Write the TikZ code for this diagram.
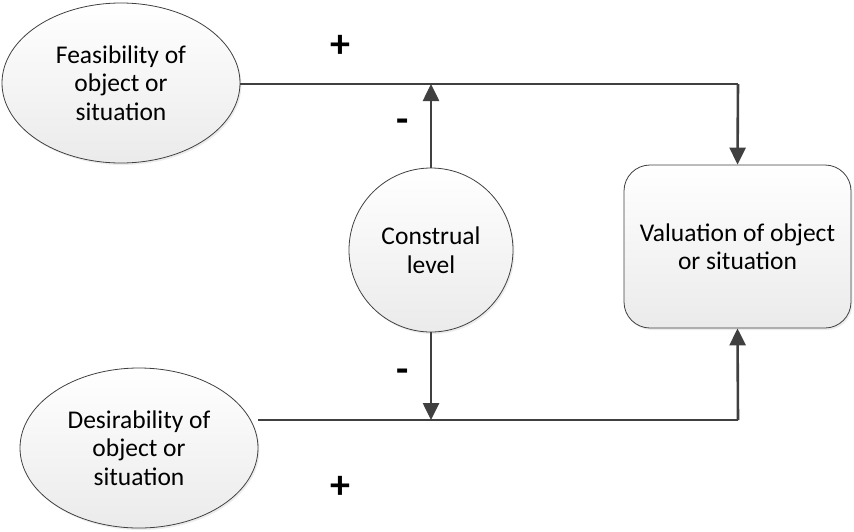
\documentclass[tikz,border=0pt]{standalone}
\usepackage{fontspec}
\setmainfont{Carlito}
\usetikzlibrary{shapes.geometric,arrows.meta,shadows}
\definecolor{linec}{HTML}{404040}
\tikzset{
  shaded/.style={top color=white, bottom color=black!8, draw=black!75, line width=0.8pt,
    drop shadow={shadow xshift=1.5pt, shadow yshift=-2pt, opacity=0.15}},
  txt/.style={align=center, font=\fontsize{25.5}{28.5}\selectfont},
  ell/.style={shaded, txt, ellipse, minimum width=238pt, minimum height=160pt, inner sep=0pt},
  circ/.style={shaded, txt, circle, minimum size=164pt, inner sep=0pt},
  rbox/.style={shaded, txt, rectangle, rounded corners=26pt, minimum width=227pt, minimum height=163pt, inner sep=0pt},
  conn/.style={draw=linec, line width=2.6pt},
  arr/.style={conn, -{Triangle[length=17pt, width=16pt]}},
  sign/.style={inner sep=0pt, font=\fontsize{40}{40}\selectfont\bfseries}
}
\begin{document}
\begin{tikzpicture}[x=1pt,y=-1pt]
\useasboundingbox (0,0) rectangle (854,531);
\node[ell] (feas) at (121,83) {Feasibility of\\object or\\situation};
\node[ell] (des) at (139,448) {Desirability of\\object or\\situation};
\node[circ] (cl) at (431,250) {Construal\\level};
\node[rbox] (val) at (737.5,246.5) {Valuation of object\\or situation};
\coordinate (tc) at (738,84);
\coordinate (bc) at (738,420);
\coordinate (tm) at (431,84);
\coordinate (bm) at (431,420);
\draw[conn] (feas.east |- tc) -- (tc);
\draw[arr] (tc) -- (val.north);
\draw[conn] (des.east |- bc) -- (bc);
\draw[arr] (bc) -- (val.south);
\draw[arr] (cl.north) -- (tm);
\draw[arr] (cl.south) -- (bm);
\node[sign, anchor=center] (p1) at (340.5,46) {\raisebox{-0.25em}{+}};
\node[sign] (p2) at (340.5,487) {\raisebox{-0.25em}{+}};
\node[sign] (m1) at (403,126) {\raisebox{-0.2em}{-}};
\node[sign] (m2) at (403,376) {\raisebox{-0.2em}{-}};
\end{tikzpicture}
\end{document}
